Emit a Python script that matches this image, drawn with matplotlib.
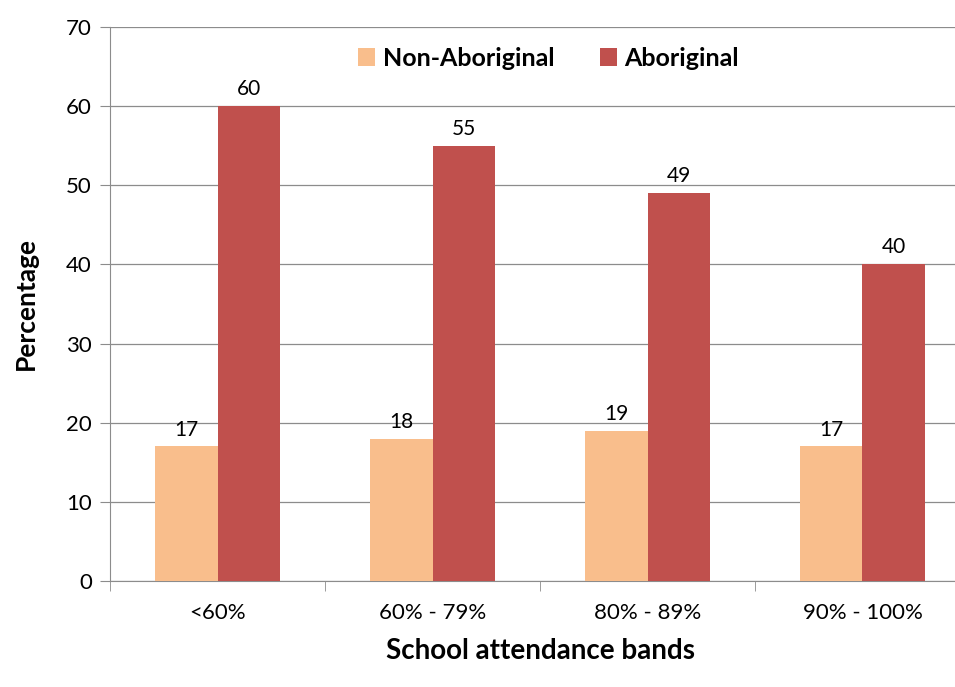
import matplotlib.pyplot as plt
import numpy as np

plt.rcParams['font.family'] = ['Lato', 'DejaVu Sans']

bands = ['<60%', '60% - 79%', '80% - 89%', '90% - 100%']
non_aboriginal = [17, 18, 19, 17]
aboriginal = [60, 55, 49, 40]

fig = plt.figure(figsize=(9.55, 6.87), dpi=100)
ax = fig.add_axes([0.1152, 0.1543, 0.9005, 0.8064])

x = np.arange(len(bands))
w = 0.29
b1 = ax.bar(x - w / 2, non_aboriginal, w, color='#F9BE8C', label='Non-Aboriginal', zorder=3)
b2 = ax.bar(x + w / 2, aboriginal, w, color='#C0504D', label='Aboriginal', zorder=3)
for bars in (b1, b2):
    for rect in bars:
        ax.annotate(f'{rect.get_height():.0f}', (rect.get_x() + rect.get_width() / 2, rect.get_height()),
                    xytext=(0, 5), textcoords='offset points', ha='center', va='bottom', fontsize=15)

ax.set_xlim(-0.5, len(bands) - 0.5)
ax.set_ylim(0, 70)
ax.set_yticks(range(0, 71, 10))
ax.yaxis.grid(True, color='#8c8c8c', linewidth=0.9, zorder=0)
ax.set_xticks(x)
ax.set_xticklabels(bands)
ax.set_xticks(np.arange(-0.5, len(bands), 1), minor=True)
ax.tick_params(axis='x', which='major', length=0, pad=16, labelsize=16)
ax.tick_params(axis='x', which='minor', length=7, color='#8c8c8c')
ax.tick_params(axis='y', length=7, color='#8c8c8c', labelsize=16, pad=6)
for s in ['top', 'right']:
    ax.spines[s].set_visible(False)
for s in ['left', 'bottom']:
    ax.spines[s].set_color('#8c8c8c')

ax.set_ylabel('Percentage', fontsize=19, fontweight='bold', labelpad=20)
ax.set_xlabel('School attendance bands', fontsize=20, fontweight='bold', labelpad=11)
ax.legend(loc='upper center', bbox_to_anchor=(0.51, 1.005), ncol=2, frameon=False,
          prop={'size': 18, 'weight': 'bold'}, handlelength=0.7, handleheight=0.7,
          columnspacing=1.8, handletextpad=0.3)

fig.savefig('out.png', dpi=100)
